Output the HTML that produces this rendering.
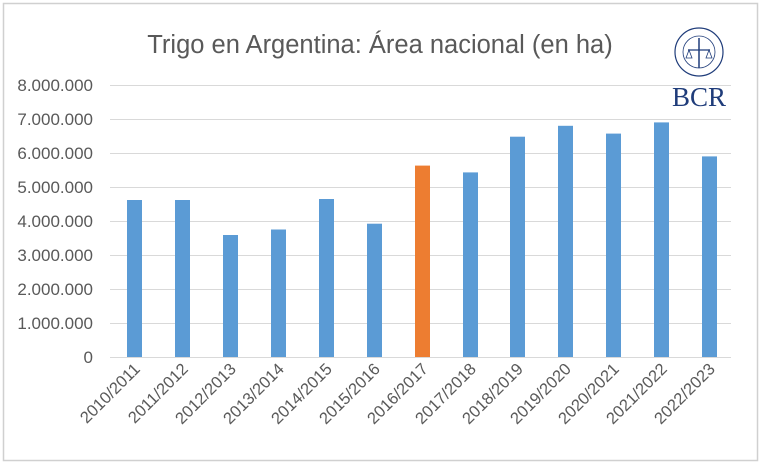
<!DOCTYPE html>
<html><head><style>
body{margin:0;background:#fff;}
svg text{font-family:"Liberation Sans",sans-serif;}
</style></head><body>
<svg width="761" height="464" xmlns="http://www.w3.org/2000/svg">
<rect x="3.5" y="3.5" width="754" height="457" fill="#fff" stroke="#d0d0d0" stroke-width="1.5"/>
<text x="380" y="53" font-size="25.5" fill="#595959" text-anchor="middle">Trigo en Argentina: Área nacional (en ha)</text>
<g stroke="#d9d9d9" stroke-width="1">
<line x1="110" x2="731" y1="85.5" y2="85.5"/>
<line x1="110" x2="731" y1="119.5" y2="119.5"/>
<line x1="110" x2="731" y1="153.5" y2="153.5"/>
<line x1="110" x2="731" y1="187.5" y2="187.5"/>
<line x1="110" x2="731" y1="221.5" y2="221.5"/>
<line x1="110" x2="731" y1="255.5" y2="255.5"/>
<line x1="110" x2="731" y1="289.5" y2="289.5"/>
<line x1="110" x2="731" y1="323.5" y2="323.5"/>
<line x1="110" x2="731" y1="357.5" y2="357.5"/>
</g>
<g font-size="17" fill="#595959" text-anchor="end">
<text x="93" y="91">8.000.000</text>
<text x="93" y="125">7.000.000</text>
<text x="93" y="159">6.000.000</text>
<text x="93" y="193">5.000.000</text>
<text x="93" y="227">4.000.000</text>
<text x="93" y="261">3.000.000</text>
<text x="93" y="295">2.000.000</text>
<text x="93" y="329">1.000.000</text>
<text x="93" y="363">0</text>
</g>
<g fill="#5b9bd5">
<rect x="127" y="200" width="15" height="157"/>
<rect x="175" y="200" width="15" height="157"/>
<rect x="223" y="235" width="15" height="122"/>
<rect x="271" y="229.5" width="15" height="127.5"/>
<rect x="319" y="199" width="15" height="158"/>
<rect x="367" y="223.7" width="15" height="133.3"/>
<rect x="415" y="165.6" width="15" height="191.4" fill="#ed7d31"/>
<rect x="463" y="172.4" width="15" height="184.6"/>
<rect x="510" y="136.7" width="15" height="220.3"/>
<rect x="558" y="125.8" width="15" height="231.2"/>
<rect x="606" y="133.6" width="15" height="223.4"/>
<rect x="654" y="122.4" width="15" height="234.6"/>
<rect x="702" y="156.4" width="15" height="200.6"/>
</g>
<g font-size="16.5" fill="#595959" text-anchor="end">
<text transform="translate(141,370) rotate(-45)">2010/2011</text>
<text transform="translate(189,370) rotate(-45)">2011/2012</text>
<text transform="translate(237,370) rotate(-45)">2012/2013</text>
<text transform="translate(285,370) rotate(-45)">2013/2014</text>
<text transform="translate(333,370) rotate(-45)">2014/2015</text>
<text transform="translate(381,370) rotate(-45)">2015/2016</text>
<text transform="translate(429,370) rotate(-45)">2016/2017</text>
<text transform="translate(477,370) rotate(-45)">2017/2018</text>
<text transform="translate(524,370) rotate(-45)">2018/2019</text>
<text transform="translate(572,370) rotate(-45)">2019/2020</text>
<text transform="translate(620,370) rotate(-45)">2020/2021</text>
<text transform="translate(668,370) rotate(-45)">2021/2022</text>
<text transform="translate(716,370) rotate(-45)">2022/2023</text>
</g>
<g stroke="#1f3c7a" fill="none">
<circle cx="699" cy="52" r="24" stroke-width="1.2"/>
<circle cx="699" cy="52" r="16" stroke-width="0.8"/>
<line x1="699" y1="38" x2="699" y2="68" stroke-width="1.5"/>
<line x1="688" y1="50" x2="710" y2="50" stroke-width="1.2"/>
<path d="M686 58 l3 -8 l3 8 z M706 58 l3 -8 l3 8 z" stroke-width="0.8"/>
</g>
<text x="699" y="106" font-size="27" fill="#1f3c7a" text-anchor="middle" style="font-family:'Liberation Serif',serif">BCR</text>
</svg>
</body></html>
